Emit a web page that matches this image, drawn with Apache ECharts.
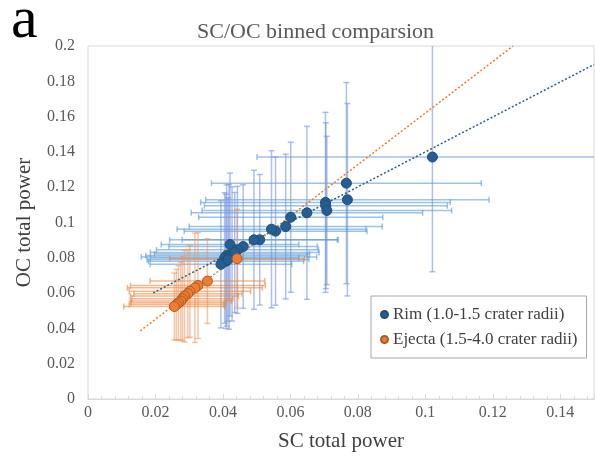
<!DOCTYPE html>
<html><head><meta charset="utf-8">
<script src="https://cdn.jsdelivr.net/npm/echarts@6/dist/echarts.min.js"></script>
<style>html,body{margin:0;padding:0;background:#fff}#c{width:595px;height:465px}</style>
</head><body><div id="c"></div><script>
// Rim (1.0-1.5 crater radii)
const rimX    = [0.1021,0.0766,0.0769,0.0704,0.0705,0.0708,0.0649,0.0601,0.0586,0.0556,0.0544,0.0509,0.0492,0.0460,0.0421,0.0443,0.0427,0.0411,0.0405,0.0409,0.0394,0.0418,0.0435,0.0415];
const rimY    = [0.1371,0.1223,0.1129,0.1114,0.1095,0.1068,0.1055,0.1030,0.0977,0.0951,0.0962,0.0902,0.0902,0.0864,0.0875,0.0845,0.0822,0.0813,0.0799,0.0780,0.0763,0.0805,0.0830,0.0790];
const rimXErr = [0.052,0.040,0.042,0.037,0.036,0.037,0.0343,0.0273,0.0286,0.0271,0.028,0.023,0.025,0.022,0.0204,0.024,0.023,0.024,0.022,0.023,0.021,0.026,0.025,0.024];
const rimYErr = [0.065,0.057,0.0545,0.051,0.047,0.042,0.049,0.0425,0.041,0.042,0.0445,0.037,0.0394,0.035,0.0405,0.036,0.038,0.040,0.037,0.038,0.036,0.041,0.034,0.035];
// Ejecta (1.5-4.0 crater radii)
const ejX    = [0.0442,0.0354,0.0326,0.0317,0.0302,0.0296,0.0286,0.0280,0.0275,0.0268,0.0262,0.0256];
const ejY    = [0.0795,0.0668,0.0643,0.0630,0.0610,0.0597,0.0583,0.0568,0.0555,0.0545,0.0535,0.0524];
const ejXErr = [0.020,0.017,0.020,0.020,0.018,0.016,0.016,0.015,0.015,0.014,0.014,0.015];
const ejYErr = [0.028,0.024,0.030,0.031,0.026,0.025,0.026,0.024,0.022,0.021,0.020,0.019];
// Linear trendlines: [slope, intercept] and x-range
const rimTrendCoef = [0.99, 0.041];
const rimTrendX = [0.0193, 0.15];
const ejTrendCoef = [1.46, 0.016];
const ejTrendX = [0.0155, 0.1260];
// Tick labels
const xTickValues = [0, 0.02, 0.04, 0.06, 0.08, 0.1, 0.12, 0.14];
const xTickLabels = ['0', '0.02', '0.04', '0.06', '0.08', '0.1', '0.12', '0.14'];
const yTickValues = [0, 0.02, 0.04, 0.06, 0.08, 0.1, 0.12, 0.14, 0.16, 0.18, 0.2];
const yTickLabels = ['0', '0.02', '0.04', '0.06', '0.08', '0.1', '0.12', '0.14', '0.16', '0.18', '0.2'];

const FONT = 'Liberation Serif';
const rimName = 'Rim (1.0-1.5 crater radii)';
const ejName = 'Ejecta (1.5-4.0 crater radii)';

function errSeries(xs, ys, xe, ye, hColor, vColor) {
  return {
    type: 'custom', silent: true, clip: true, z: 1,
    data: xs.map((x, i) => [x, ys[i], xe[i], ye[i]]),
    encode: {x: 0, y: 1},
    renderItem: function (params, api) {
      const x = api.value(0), y = api.value(1), ex = api.value(2), ey = api.value(3);
      const l = api.coord([x - ex, y]), r = api.coord([x + ex, y]);
      const t = api.coord([x, y + ey]), b = api.coord([x, y - ey]);
      const c = 3;
      const hs = {stroke: hColor, lineWidth: 1.5};
      const vs = {stroke: vColor, lineWidth: 1.5};
      return {type: 'group', children: [
        {type: 'line', shape: {x1: l[0], y1: l[1], x2: r[0], y2: r[1]}, style: hs},
        {type: 'line', shape: {x1: l[0], y1: l[1] - c, x2: l[0], y2: l[1] + c}, style: hs},
        {type: 'line', shape: {x1: r[0], y1: r[1] - c, x2: r[0], y2: r[1] + c}, style: hs},
        {type: 'line', shape: {x1: b[0], y1: b[1], x2: t[0], y2: t[1]}, style: vs},
        {type: 'line', shape: {x1: t[0] - c, y1: t[1], x2: t[0] + c, y2: t[1]}, style: vs},
        {type: 'line', shape: {x1: b[0] - c, y1: b[1], x2: b[0] + c, y2: b[1]}, style: vs}
      ]};
    }
  };
}
function trend(coef, xr) { return xr.map(x => [x, coef[0] * x + coef[1]]); }

const chart = echarts.init(document.getElementById('c'), null, {renderer: 'canvas'});
chart.setOption({
  animation: false,
  backgroundColor: '#fff',
  textStyle: {fontFamily: FONT},
  title: [
    {text: 'a', left: 6, top: -14, textStyle: {fontFamily: FONT, fontSize: 60, fontWeight: 'normal', color: '#000'}},
    {text: 'SC/OC binned comparsion', left: 192, top: 16, textStyle: {fontFamily: FONT, fontSize: 22, fontWeight: 'normal', color: '#595959'}}
  ],
  grid: {left: 88, right: 1, top: 46, bottom: 66, show: true, borderColor: '#d9d9d9', borderWidth: 1},
  legend: {
    orient: 'vertical', left: 371, top: 296,
    padding: [10, 9, 10, 9], itemGap: 8,
    borderColor: '#a6a6a6', borderWidth: 1, backgroundColor: '#fff',
    icon: 'circle', itemWidth: 7, itemHeight: 7,
    textStyle: {fontFamily: FONT, fontSize: 17, color: '#404040'},
    data: [rimName, ejName]
  },
  xAxis: {
    type: 'value', min: 0, max: 0.15, interval: 0.02,
    name: 'SC total power', nameLocation: 'middle', nameGap: 32,
    nameTextStyle: {fontFamily: FONT, fontSize: 21, color: '#404040'},
    axisLine: {show: true, lineStyle: {color: '#d9d9d9'}},
    axisTick: {show: true, inside: true, length: 5, lineStyle: {color: '#d9d9d9'}},
    minorTick: {show: true, splitNumber: 5, length: 3, lineStyle: {color: '#d9d9d9'}},
    splitLine: {show: false},
    axisLabel: {show: false}
  },
  yAxis: {
    type: 'value', min: 0, max: 0.2, interval: 0.02,
    name: 'OC total power', nameLocation: 'middle', nameGap: 53,
    nameTextStyle: {fontFamily: FONT, fontSize: 21, color: '#404040'},
    axisLine: {show: false}, axisTick: {show: false}, splitLine: {show: false},
    axisLabel: {show: false}
  },
  series: [
    errSeries(rimX, rimY, rimXErr, rimYErr, 'rgba(91,155,213,0.6)', 'rgba(120,150,220,0.6)'),
    errSeries(ejX, ejY, ejXErr, ejYErr, 'rgba(237,125,49,0.55)', 'rgba(240,150,90,0.55)'),
    {type: 'line', data: trend(rimTrendCoef, rimTrendX), showSymbol: false, silent: true, z: 2,
     lineStyle: {color: '#2E5B8A', width: 1.5, type: [2, 2]}},
    {type: 'line', data: trend(ejTrendCoef, ejTrendX), showSymbol: false, silent: true, z: 2,
     lineStyle: {color: '#ED7D31', width: 1.5, type: [2, 2]}},
    {type: 'scatter', name: rimName, z: 3, symbolSize: 10,
     data: rimX.map((x, i) => [x, rimY[i]]),
     itemStyle: {color: '#255E91', borderColor: '#1F4E79', borderWidth: 1, opacity: 1}},
    {type: 'scatter', name: ejName, z: 4, symbolSize: 10,
     data: ejX.map((x, i) => [x, ejY[i]]),
     itemStyle: {color: '#ED7D31', borderColor: '#AE5A21', borderWidth: 1, opacity: 1}}
  ]
});

// Tick labels placed through the chart's own scales (serif font)
const tickGraphics = [];
xTickValues.forEach((v, i) => {
  const p = chart.convertToPixel({gridIndex: 0}, [v, 0]);
  tickGraphics.push({type: 'text', x: p[0], y: p[1] + 6, silent: true,
    style: {text: xTickLabels[i], font: '16px "Liberation Serif"', fill: '#595959', textAlign: 'center', textVerticalAlign: 'top'}});
});
yTickValues.forEach((v, i) => {
  const p = chart.convertToPixel({gridIndex: 0}, [0, v]);
  tickGraphics.push({type: 'text', x: p[0] - 13, y: p[1], silent: true,
    style: {text: yTickLabels[i], font: '16px "Liberation Serif"', fill: '#595959', textAlign: 'right', textVerticalAlign: 'middle'}});
});
chart.setOption({graphic: tickGraphics});
</script></body></html>
